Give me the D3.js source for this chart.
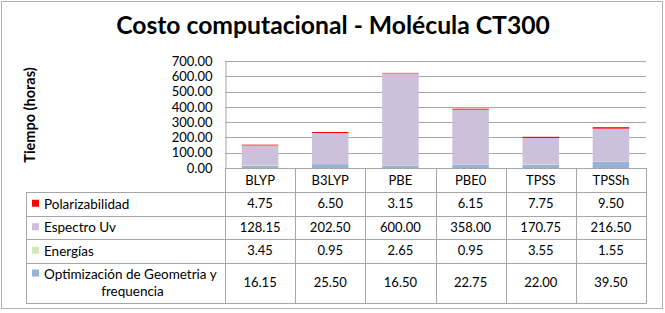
<!DOCTYPE html>
<html>
<head>
<meta charset="utf-8">
<script src="https://cdn.jsdelivr.net/npm/d3@7"></script>
<style>
  body { margin: 0; background: #fff; }
  svg { display: block; font-family: Lato, "Open Sans", sans-serif; }
</style>
</head>
<body>
<div id="chart"></div>
<script>
// methods (columns of the table)
var methods = ["BLYP", "B3LYP", "PBE", "PBE0", "TPSS", "TPSSh"];

// series, bottom of stack first
var optimizacion = [16.15, 25.50, 16.50, 22.75, 22.00, 39.50];
var energias = [3.45, 0.95, 2.65, 0.95, 3.55, 1.55];
var espectro = [128.15, 202.50, 600.00, 358.00, 170.75, 216.50];
var polarizabilidad = [4.75, 6.50, 3.15, 6.15, 7.75, 9.50];

var seriesNames = ["Optimización de Geometria y frequencia", "Energías", "Espectro Uv", "Polarizabilidad"];
var seriesColors = ["#95B3D7", "#D7E4BD", "#CCC0DA", "#FF0000"];
var yTicks = [0, 100, 200, 300, 400, 500, 600, 700];

var width = 665, height = 313;
var plotLeft = 225, plotRight = 646, plotTop = 61, plotBottom = 168;
var tableLeft = 26;
var rowEdges = [168, 192, 215.5, 239, 262.5, 303];

var svg = d3.select("#chart").append("svg")
  .attr("width", width)
  .attr("height", height);

// outer frame
svg.append("rect")
  .attr("x", 1.5).attr("y", 1.5)
  .attr("width", 661).attr("height", 307)
  .attr("fill", "#fff")
  .attr("stroke", "#B0B0B0");

// title
var title = svg.append("text")
  .attr("x", 333).attr("y", 34)
  .attr("text-anchor", "middle")
  .style("font-weight", "bold")
  .style("font-size", "24px")
  .text("Costo computacional - Molécula CT300");
var tw = title.node().getComputedTextLength();
title.style("font-size", (24 * 434 / tw) + "px");

var x = d3.scaleBand().domain(methods).range([plotLeft, plotRight]).padding(0);
var y = d3.scaleLinear().domain([0, 700]).range([plotBottom, plotTop]);

// gridlines
svg.append("g")
  .selectAll("line")
  .data(yTicks)
  .enter().append("line")
  .attr("x1", plotLeft).attr("x2", plotRight)
  .attr("y1", function(d) { return Math.round(y(d)) + 0.5; })
  .attr("y2", function(d) { return Math.round(y(d)) + 0.5; })
  .attr("stroke", "#A6A6A6");

// y axis with tick labels
var yAxis = d3.axisLeft(y)
  .tickValues(yTicks)
  .tickFormat(d3.format(".2f"))
  .tickSize(0)
  .tickPadding(13);
var yg = svg.append("g")
  .attr("transform", "translate(" + (plotLeft + 0.5) + ",0)")
  .call(yAxis);
yg.select(".domain").attr("stroke", "#A6A6A6");
yg.selectAll("text")
  .style("font-family", "Lato, sans-serif")
  .style("font-size", "13px")
  .attr("fill", "#000");

// y axis title
svg.append("text")
  .attr("transform", "translate(35,115) rotate(-90)")
  .attr("text-anchor", "middle")
  .style("font-weight", "bold")
  .style("font-size", "14.5px")
  .text("Tiempo (horas)");

// stacked bars
var rows = methods.map(function(m, i) {
  return { method: m, s0: optimizacion[i], s1: energias[i], s2: espectro[i], s3: polarizabilidad[i] };
});
var stack = d3.stack().keys(["s0", "s1", "s2", "s3"]);
var layers = stack(rows);
var barW = x.bandwidth() * 0.52;

svg.append("g")
  .selectAll("g")
  .data(layers)
  .enter().append("g")
  .attr("fill", function(d, i) { return seriesColors[i]; })
  .selectAll("rect")
  .data(function(d) { return d; })
  .enter().append("rect")
  .attr("x", function(d) { return x(d.data.method) + (x.bandwidth() - barW) / 2; })
  .attr("y", function(d) { return y(d[1]); })
  .attr("width", barW)
  .attr("height", function(d) { return y(d[0]) - y(d[1]); });

// data table
var table = svg.append("g").attr("stroke", "#A6A6A6").attr("stroke-width", 1);

// horizontal lines
rowEdges.forEach(function(ry, i) {
  table.append("line")
    .attr("x1", i < 1 ? plotLeft : tableLeft)
    .attr("x2", plotRight)
    .attr("y1", Math.round(ry) + 0.5)
    .attr("y2", Math.round(ry) + 0.5);
});

// vertical lines
var colEdges = methods.map(function(m) { return x(m); }).concat([plotRight]);
colEdges.forEach(function(cx) {
  table.append("line")
    .attr("x1", Math.round(cx) + 0.5).attr("x2", Math.round(cx) + 0.5)
    .attr("y1", rowEdges[0]).attr("y2", Math.round(rowEdges[5]) + 0.5);
});
table.append("line")
  .attr("x1", tableLeft + 0.5).attr("x2", tableLeft + 0.5)
  .attr("y1", Math.round(rowEdges[1]) + 0.5).attr("y2", Math.round(rowEdges[5]) + 0.5);

// category header labels
svg.append("g")
  .selectAll("text")
  .data(methods)
  .enter().append("text")
  .attr("x", function(d) { return x(d) + x.bandwidth() / 2; })
  .attr("y", (rowEdges[0] + rowEdges[1]) / 2)
  .attr("dy", "0.36em")
  .attr("text-anchor", "middle")
  .style("font-size", "13px")
  .text(function(d) { return d; });

// table rows: top row is the top series
var tableRows = [
  { name: ["Polarizabilidad"], color: seriesColors[3], values: polarizabilidad },
  { name: ["Espectro Uv"], color: seriesColors[2], values: espectro },
  { name: ["Energías"], color: seriesColors[1], values: energias },
  { name: ["Optimización de Geometria y", "frequencia"], color: seriesColors[0], values: optimizacion }
];

tableRows.forEach(function(r, i) {
  var top = rowEdges[i + 1], bottom = rowEdges[i + 2];
  var mid = (top + bottom) / 2;
  var g = svg.append("g");
  var keyY = r.name.length > 1 ? top + 7 : mid - 4;
  g.append("rect")
    .attr("x", 32).attr("y", keyY)
    .attr("width", 7).attr("height", 7)
    .attr("fill", r.color);
  if (r.name.length === 1) {
    g.append("text")
      .attr("x", 44).attr("y", mid)
      .attr("dy", "0.36em")
      .style("font-size", "13.5px")
      .text(r.name[0]);
  } else {
    g.append("text")
      .attr("x", 44).attr("y", top + 12)
      .attr("dy", "0.36em")
      .style("font-size", "13.5px")
      .text(r.name[0]);
    g.append("text")
      .attr("x", (tableLeft + plotLeft) / 2 + 7).attr("y", top + 29)
      .attr("dy", "0.36em")
      .attr("text-anchor", "middle")
      .style("font-size", "13.5px")
      .text(r.name[1]);
  }
  g.selectAll("text.val")
    .data(r.values)
    .enter().append("text")
    .attr("class", "val")
    .attr("x", function(d, j) { return x(methods[j]) + x.bandwidth() / 2; })
    .attr("y", mid)
    .attr("dy", "0.36em")
    .attr("text-anchor", "middle")
    .style("font-size", "13px")
    .text(function(d) { return d3.format(".2f")(d); });
});
</script>
</body>
</html>
